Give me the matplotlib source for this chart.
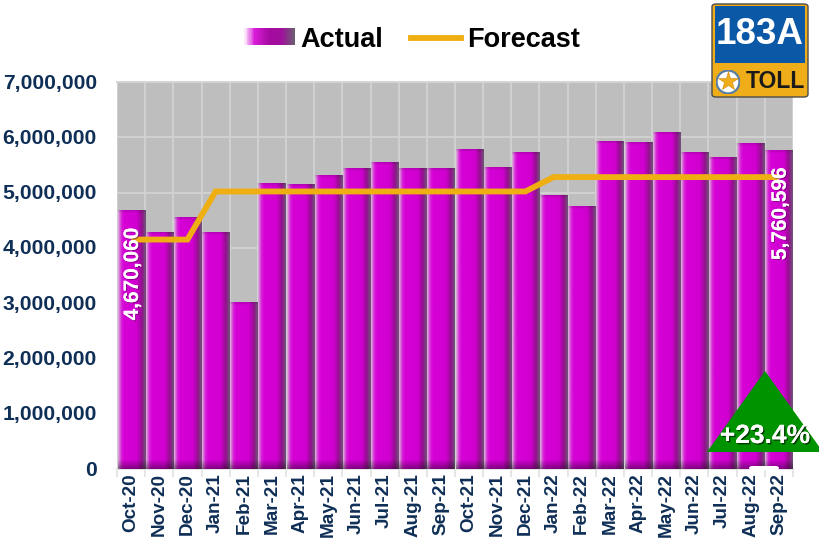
import numpy as np
import matplotlib
matplotlib.use("Agg")
import matplotlib.pyplot as plt
from matplotlib.colors import LinearSegmentedColormap
from matplotlib.legend_handler import HandlerBase
from matplotlib.lines import Line2D
from matplotlib.patches import Rectangle, Polygon, FancyBboxPatch, Circle
from matplotlib.ticker import FuncFormatter, MultipleLocator
from matplotlib.transforms import ScaledTranslation
import matplotlib.patheffects as pe

months = ["Oct-20","Nov-20","Dec-20","Jan-21","Feb-21","Mar-21","Apr-21","May-21","Jun-21","Jul-21","Aug-21","Sep-21",
          "Oct-21","Nov-21","Dec-21","Jan-22","Feb-22","Mar-22","Apr-22","May-22","Jun-22","Jul-22","Aug-22","Sep-22"]
actual = [4670060,4280000,4550000,4270000,3010000,5170000,5150000,5310000,5440000,5550000,5440000,5440000,
          5780000,5460000,5730000,4950000,4740000,5930000,5910000,6090000,5730000,5640000,5890000,5760596]
forecast = [4150000,4150000,4150000,5020000,5020000,5020000,5020000,5020000,5020000,5020000,5020000,5020000,
            5020000,5020000,5020000,5280000,5280000,5280000,5280000,5280000,5280000,5280000,5280000,5280000]
labelled = {0: "4,670,060", 23: "5,760,596"}
change_label = "+23.4%"

plt.rcParams["font.family"] = ["Liberation Sans", "DejaVu Sans"]
plt.rcParams["font.weight"] = "bold"
W, H = 819, 540
NAVY = "#0F2F57"
fig = plt.figure(figsize=(W/100, H/100), dpi=100)
ax = fig.add_axes([117/W, 1-469/H, 676/W, 387/H])
ax.set_facecolor("#BEBEBE")

grad = LinearSegmentedColormap.from_list("bar", [(0,"#DDB0DD"),(0.12,"#D620D6"),(0.22,"#D600D6"),
                                                 (0.68,"#D000D0"),(0.86,"#94108E"),(1,"#6F5578")])
row = grad(np.linspace(0, 1, 64))[:, :3]

def bar_image(value):
    # shade the foot and top of a bar a little, over about ten pixels of height
    px_per_unit = 387 / 7000000
    n = max(2, int(value * px_per_unit))
    d = np.arange(n)
    shade = 1 - 0.38 * np.clip(1 - (n - 1 - d) / 9, 0, 1) - 0.12 * np.clip(1 - d / 3, 0, 1)
    return row[None, :, :] * shade[:, None, None]

x = np.arange(len(months))
bars = ax.bar(x, actual, width=0.96, color="#CC00CC", zorder=2)
for b in bars:
    ax.imshow(bar_image(b.get_height()), aspect="auto", zorder=2.1, interpolation="bilinear", origin="upper",
              extent=(b.get_x(), b.get_x()+b.get_width(), 0, b.get_height()))
ax.plot(x, forecast, color="#EFAE12", lw=4.2, solid_joinstyle="miter", solid_capstyle="butt", zorder=3)

ax.set_xlim(-0.5, len(months)-0.5)
ax.set_ylim(0, 7000000)
ax.yaxis.set_major_locator(MultipleLocator(1000000))
ax.yaxis.set_major_formatter(FuncFormatter(lambda v, _: f"{int(v):,}"))
ax.set_xticks(x)
ax.set_xticklabels(months, rotation=90)
ax.tick_params(axis="y", length=0, pad=14.5, labelsize=15.2, labelcolor=NAVY)
ax.tick_params(axis="x", length=0, pad=3, labelsize=13.6, labelcolor=NAVY)
for t in ax.get_xticklabels() + ax.get_yticklabels():
    t.set_fontweight("bold")
ax.grid(axis="y", color="#D2D2D2", lw=1.3, zorder=1)
for e in np.arange(-0.5, len(months)+0.5):
    ax.axvline(e, color="#D2D2D2", lw=1.3, zorder=1)
    ax.plot([e, e], [0, -0.018], transform=ax.get_xaxis_transform(), color="#E4E4E4", lw=1.3, clip_on=False)
for s in ax.spines.values():
    s.set_visible(False)
ax.plot([0, 1], [1, 1], transform=ax.transAxes, color="#D6D6D6", lw=1.5, zorder=1, clip_on=False)
ax.plot([0, 1], [0, 0], transform=ax.transAxes, color="#E4E4E4", lw=1.3, zorder=1.5, clip_on=False)

for i, lab in labelled.items():
    ax.text(x[i]+0.05, actual[i] - 300000, lab, rotation=90, color="white", fontsize=15, fontweight="bold",
            ha="center", va="top", zorder=4,
            path_effects=[pe.withSimplePatchShadow(offset=(0.8,-0.8), shadow_rgbFace="#500050", alpha=0.5), pe.Normal()])

class GradHandler(HandlerBase):
    def create_artists(self, legend, orig, xd, yd, w, h, fs, trans):
        n = 40
        out = []
        for k in range(n):
            out.append(Rectangle((-xd+w*k/n, -yd+0.5), w/n+0.3, h, transform=trans, lw=0,
                                 fc=leg_cm(k/(n-1))))
        return out
leg_cm = LinearSegmentedColormap.from_list("leg", [(0,"#FBE6FB"),(0.2,"#D81BD8"),(0.5,"#A40AA0"),
                                                   (0.75,"#A0109C"),(1,"#6E5A72")])
h_a = Rectangle((0,0),1,1)
h_f = Line2D([0],[0], color="#EFAE12", lw=4.2)
fig.legend([h_a, h_f], ["Actual","Forecast"], handler_map={Rectangle: GradHandler()},
           loc="center", bbox_to_anchor=(412/W, 1-40/H), ncol=2, frameon=False,
           prop={"size":19.5, "weight":"bold"}, handlelength=1.85, handleheight=0.6,
           handletextpad=0.2, columnspacing=1.05, labelcolor="black")

def px(a, b):
    return (a/W, 1-b/H)

# pointer triangle and its label
fig.add_artist(FancyBboxPatch(px(749,470), 30/W, 4/H, boxstyle="round,pad=0,rounding_size=0.004",
                              fc="white", ec="none", transform=fig.transFigure, zorder=5))
fig.add_artist(Polygon([px(765,371), px(707,452), px(823,452)], closed=True, fc="#009300", ec="none",
                       transform=fig.transFigure, zorder=6))
fig.text(*px(765,436), change_label, color="white", fontsize=19, fontweight="bold", ha="center", va="center", zorder=7,
         path_effects=[pe.withSimplePatchShadow(offset=(1,-1), shadow_rgbFace="black", alpha=0.6), pe.Normal()])

# route logo
fig.add_artist(FancyBboxPatch(px(712,97), 96/W, 93/H, boxstyle="round,pad=0,rounding_size=0.005",
                              fc="#EFAE19", ec="#4A4A4A", lw=1, transform=fig.transFigure, zorder=8))
fig.add_artist(Rectangle(px(715,63), 90/W, 57/H, fc="#0A58A6", ec="none", transform=fig.transFigure, zorder=9))
fig.text(*px(760,35), "183A", color="white", fontsize=26.5, fontweight="bold", ha="center", va="center", zorder=10)
fig.text(*px(775.5,81), "TOLL", color="#1A1A1A", fontsize=16.5, fontweight="bold", ha="center", va="center", zorder=10)
logo_ax = fig.add_axes([716/W, 1-94/H, 24/W, 24/H], zorder=11)
logo_ax.set_xlim(-1,1); logo_ax.set_ylim(-1,1); logo_ax.axis("off")
logo_ax.add_patch(Circle((0,0), 0.95, fc="white", ec="#5A7FA5", lw=1.6))
logo_ax.plot([0],[0.08], marker="*", ms=15, color="#EFAE19", mec="#D08A10", mew=0.4)

fig.canvas.draw()
shift = ScaledTranslation(0, 1/100, fig.dpi_scale_trans)
for t in ax.get_yticklabels():
    t.set_transform(t.get_transform() + shift)

fig.savefig("out.png", dpi=100)
